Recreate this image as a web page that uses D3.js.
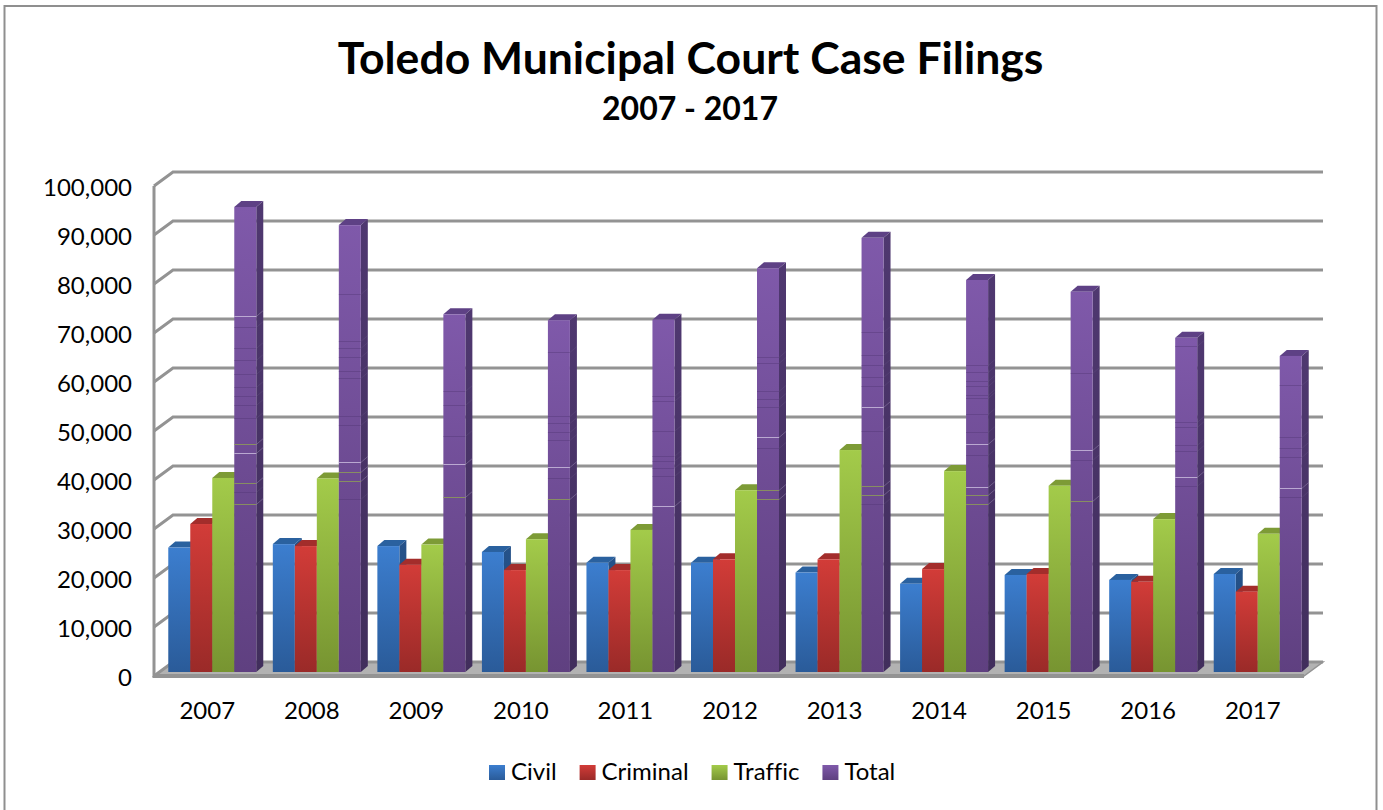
<!DOCTYPE html>
<html>
<head>
<meta charset="utf-8">
<script src="https://cdn.jsdelivr.net/npm/d3@7"></script>
<style>
  html, body { margin: 0; padding: 0; background: #fff; overflow: hidden; }
  text { font-family: Lato, "Open Sans", sans-serif; fill: #000; font-variant-ligatures: none; }
</style>
</head>
<body>
<div id="chart"></div>
<script>
const years = ["2007", "2008", "2009", "2010", "2011", "2012", "2013", "2014", "2015", "2016", "2017"];
const seriesNames = ["Civil", "Criminal", "Traffic", "Total"];

const civil = [25400, 26100, 25700, 24500, 22300, 22300, 20300, 18000, 19800, 18800, 20000];
const criminal = [30200, 25700, 21900, 20800, 20800, 23000, 23000, 21000, 20000, 18400, 16400];
const traffic = [39600, 39500, 26000, 27100, 29000, 37100, 45300, 41000, 38000, 31200, 28200];
const total = [94900, 91200, 73000, 71800, 71900, 82400, 88600, 80000, 77600, 68200, 64500];

const yTicks = [0, 10000, 20000, 30000, 40000, 50000, 60000, 70000, 80000, 90000, 100000];

// the stray seams that show on the Total columns in the picture, one list per year
const lightSeams = [[72700, 44700], [42900], [42400], [41800], [33900], [48000], [54100], [46500, 37800], [45300], [39800], [37600]];
const darkSeams = [
  [70400, 66100, 63700, 60800, 58200, 56300, 54500, 51800, 36700],
  [77100, 67600, 66200, 64300, 61400, 60000, 52200, 50400, 35300],
  [57300, 54500, 48200],
  [65300, 52200, 50800, 49000, 47300, 39600],
  [56300, 55300, 49200, 44100, 43100, 41600, 40000],
  [64300, 63100, 57300, 55700, 54100, 45700],
  [69400, 64700, 62700, 60200, 58400, 49200, 34300],
  [62700, 61200, 59400, 58400, 56500, 55900, 52700, 49000, 44300],
  [61000, 43300],
  [66500, 51000, 50000, 46300, 45100, 38000],
  [58600, 48000, 45700, 43900, 35700]
];
const greenSeams = [[46500, 38600, 34300], [40800, 39000], [35700], [35300], [], [37100, 35300], [38000, 36100], [36100, 34300], [34900], [], []];

const valuesBySeries = [civil, criminal, traffic, total];
const colors = [
  { hi: "#3c7ecf", lo: "#2a5b99", side: "#25528a", sideLo: "#1f4675", top: "#2a619f" },
  { hi: "#d23c38", lo: "#9a2a28", side: "#8a2523", sideLo: "#762020", top: "#a32d2b" },
  { hi: "#a3cb4a", lo: "#779431", side: "#6c8a2c", sideLo: "#5e7826", top: "#7d9b36" },
  { hi: "#7f59aa", lo: "#5f4080", side: "#4f3870", sideLo: "#412e5c", top: "#5e4185" }
];

const width = 1383, height = 810;
const margin = { top: 186, right: 79, bottom: 134, left: 154 };
const wall = { dx: 19, dy: -14 };
const barDepth = { dx: 7, dy: -6 };
const barInset = { dx: 6, dy: -4 };
const barW = 22;
const gridColor = "#939393";

const svg = d3.select("#chart").append("svg")
  .attr("width", width)
  .attr("height", height)
  .style("display", "block");

const x = d3.scaleBand()
  .domain(years)
  .range([margin.left, width - margin.right]);

const y = d3.scaleLinear()
  .domain([0, 100000])
  .range([height - margin.bottom, margin.top]);

const x1 = d3.scaleBand()
  .domain(seriesNames)
  .range([(x.step() - 4 * barW) / 2, (x.step() + 4 * barW) / 2]);

const defs = svg.append("defs");
seriesNames.forEach((name, i) => {
  let grad = defs.append("linearGradient")
    .attr("id", "grad" + i)
    .attr("x1", 0).attr("y1", 0).attr("x2", 0).attr("y2", 1);
  grad.append("stop").attr("offset", 0).attr("stop-color", colors[i].hi);
  grad.append("stop").attr("offset", 1).attr("stop-color", colors[i].lo);

  let sideGrad = defs.append("linearGradient")
    .attr("id", "side" + i)
    .attr("x1", 0).attr("y1", 0).attr("x2", 0).attr("y2", 1);
  sideGrad.append("stop").attr("offset", 0).attr("stop-color", colors[i].side);
  sideGrad.append("stop").attr("offset", 1).attr("stop-color", colors[i].sideLo);
});

// outer frame, runs off the bottom of the window like the reference
svg.append("rect")
  .attr("x", 4.5).attr("y", 6)
  .attr("width", 1372).attr("height", 830)
  .attr("fill", "#fff")
  .attr("stroke", "#8f8f8f")
  .attr("stroke-width", 2);

svg.append("text")
  .attr("x", 690.5).attr("y", 74)
  .attr("text-anchor", "middle")
  .attr("font-size", 44.5)
  .attr("font-weight", 700)
  .text("Toledo Municipal Court Case Filings");

svg.append("text")
  .attr("x", 690).attr("y", 120)
  .attr("text-anchor", "middle")
  .attr("font-size", 32)
  .attr("font-weight", 700)
  .text("2007 - 2017");

// floor
let x0 = x.range()[0], xEnd = x.range()[1], yBase = y(0);
svg.append("path")
  .attr("d", `M${x0},${yBase}L${xEnd},${yBase}L${xEnd + wall.dx},${yBase + wall.dy}L${x0 + wall.dx},${yBase + wall.dy}Z`)
  .attr("fill", "#b2b2b2")
  .attr("stroke", gridColor)
  .attr("stroke-width", 1.5);

svg.append("line")
  .attr("x1", x0).attr("x2", xEnd)
  .attr("y1", yBase).attr("y2", yBase)
  .attr("stroke", gridColor)
  .attr("stroke-width", 4);

// gridlines on the back wall and their step across the side wall
svg.append("g")
  .selectAll("path")
  .data(yTicks)
  .join("path")
  .attr("d", d => `M${x0},${y(d)}L${x0 + wall.dx},${y(d) + wall.dy}L${xEnd + wall.dx},${y(d) + wall.dy}`)
  .attr("fill", "none")
  .attr("stroke", gridColor)
  .attr("stroke-width", 3);

svg.append("line")
  .attr("x1", x0).attr("x2", x0)
  .attr("y1", y(100000)).attr("y2", y(0) + 2)
  .attr("stroke", gridColor)
  .attr("stroke-width", 3);

// axes, only the labels are used
let yAxis = svg.append("g")
  .attr("transform", `translate(${x0 - 19},2)`)
  .call(d3.axisLeft(y).tickValues(yTicks).tickSize(0).tickFormat(d3.format(",")));
yAxis.select(".domain").remove();
yAxis.selectAll("text")
  .attr("font-family", "Lato")
  .attr("font-size", 24)
  .attr("fill", "#000");

let xAxis = svg.append("g")
  .attr("transform", `translate(1,${yBase + 23})`)
  .call(d3.axisBottom(x).tickSize(0));
xAxis.select(".domain").remove();
xAxis.selectAll("text")
  .attr("font-family", "Lato")
  .attr("font-size", 24)
  .attr("fill", "#000");

// columns
let bars = svg.append("g");
years.forEach((year, j) => {
  seriesNames.forEach((name, i) => {
    let v = valuesBySeries[i][j];
    let left = x(year) + x1(name) + barInset.dx;
    let right = left + barW;
    let base = y(0) + barInset.dy;
    let topY = y(v) + barInset.dy;
    let g = bars.append("g").attr("class", "col");

    g.append("path")
      .attr("d", `M${left},${topY}L${left + barDepth.dx},${topY + barDepth.dy}L${right + barDepth.dx},${topY + barDepth.dy}L${right},${topY}Z`)
      .attr("fill", colors[i].top);

    g.append("path")
      .attr("d", `M${right},${topY}L${right + barDepth.dx},${topY + barDepth.dy}L${right + barDepth.dx},${base + barDepth.dy}L${right},${base}Z`)
      .attr("fill", `url(#side${i})`);

    g.append("rect")
      .attr("x", left).attr("y", topY)
      .attr("width", barW).attr("height", base - topY)
      .attr("fill", `url(#grad${i})`);

    if (name === "Total") {
      let seam = (list, stroke, op, sideOp) => {
        for (let s of list) {
          let sy = Math.round(y(s) + barInset.dy) + 0.5;
          g.append("line")
            .attr("x1", left).attr("x2", right)
            .attr("y1", sy).attr("y2", sy)
            .attr("stroke", stroke)
            .attr("stroke-opacity", op);
          g.append("line")
            .attr("x1", right).attr("x2", right + barDepth.dx)
            .attr("y1", sy).attr("y2", sy + barDepth.dy)
            .attr("stroke", "#a99bc0")
            .attr("stroke-opacity", sideOp);
        }
      };
      seam(darkSeams[j], "#503572", 0.4, 0.1);
      seam(lightSeams[j], "#cdbfe0", 0.8, 0.4);
      seam(greenSeams[j], "#8f9f55", 0.8, 0.4);
    }
  });
});

// legend, centred under the plot
let legend = svg.append("g").attr("transform", "translate(0,772)");
let cursor = 489;
seriesNames.forEach((name, i) => {
  legend.append("rect")
    .attr("x", cursor).attr("y", -7)
    .attr("width", 16).attr("height", 15)
    .attr("fill", `url(#grad${i})`);
  let t = legend.append("text")
    .attr("x", cursor + 22).attr("y", 8)
    .attr("font-size", 24)
    .text(name);
  cursor += 22 + t.node().getComputedTextLength() + 23;
});
</script>
</body>
</html>
